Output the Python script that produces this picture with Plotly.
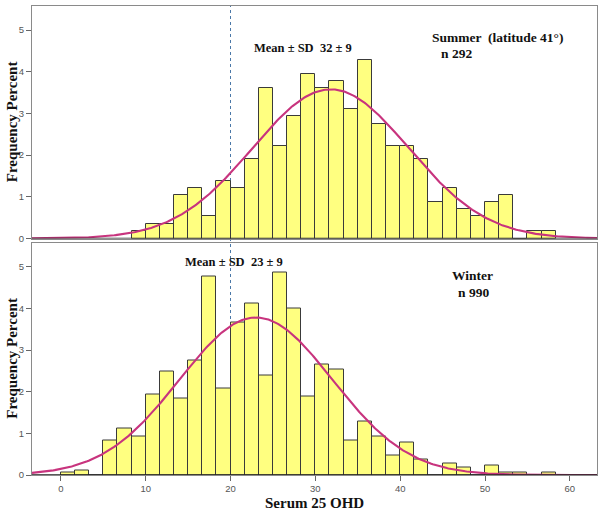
import numpy as np
import plotly.graph_objects as go

# ---- data ----
bin_width = 5 / 3
summer_bin_starts = [8.333, 10.0, 11.667, 13.333, 15.0, 16.667, 18.333, 20.0, 21.667, 23.333,
                     25.0, 26.667, 28.333, 30.0, 31.667, 33.333, 35.0, 36.667, 38.333, 40.0,
                     41.667, 43.333, 45.0, 46.667, 48.333, 50.0, 51.667, 53.333, 55.0, 56.667]
summer_pct = [0.18, 0.35, 0.35, 1.05, 1.21, 0.53, 1.38, 1.21, 1.90, 3.61,
              2.23, 2.93, 3.95, 3.61, 3.78, 3.10, 4.29, 2.75, 2.23, 2.23,
              1.90, 0.88, 1.21, 0.70, 0.53, 0.88, 1.05, 0.0, 0.18, 0.18]

winter_bin_starts = [0.0, 1.667, 3.333, 5.0, 6.667, 8.333, 10.0, 11.667, 13.333, 15.0,
                     16.667, 18.333, 20.0, 21.667, 23.333, 25.0, 26.667, 28.333, 30.0, 31.667,
                     33.333, 35.0, 36.667, 38.333, 40.0, 41.667, 43.333, 45.0, 46.667, 48.333,
                     50.0, 51.667, 53.333, 55.0, 56.667]
winter_pct = [0.06, 0.12, 0.0, 0.83, 1.11, 0.92, 1.94, 2.49, 1.83, 2.74,
              4.76, 2.08, 3.66, 4.11, 2.39, 4.86, 4.00, 1.88, 2.65, 2.54,
              0.83, 1.28, 0.92, 0.47, 0.78, 0.38, 0.0, 0.27, 0.18, 0.0,
              0.22, 0.06, 0.06, 0.0, 0.06]

summer_fit = dict(mean=31.8, sd=9.2, peak=3.58)
winter_fit = dict(mean=23.0, sd=9.0, peak=3.78)

x_ticks = [0, 10, 20, 30, 40, 50, 60]
y_ticks = [0, 1, 2, 3, 4, 5]
ref_line_x = 20

# ---- styling ----
BAR_FILL = "#FFFF80"
BAR_EDGE = "#3a3a3a"
CURVE = "#C8347E"
FRAME = "#8a8a8a"
SERIF = "Liberation Serif, Times New Roman, serif"
SANS = "Liberation Sans, Arial, sans-serif"

W, H = 604, 516
ml, mr, mt, mb = 32, 7, 6, 41
ph = H - mt - mb
sum_dom = [(H - mb - 238.5) / ph, 1.0]
win_dom = [0.0, (H - mb - 242.5) / ph]

xr = [-3.4, 63.2]
yr = [0, 5.58]

fig = go.Figure()

def centers(starts):
    return [s + bin_width / 2 for s in starts]

xs = np.linspace(xr[0], xr[1], 400)

def curve(fit):
    return fit["peak"] * np.exp(-(xs - fit["mean"]) ** 2 / (2 * fit["sd"] ** 2))

fig.add_trace(go.Bar(x=centers(summer_bin_starts), y=summer_pct, width=bin_width,
                     marker=dict(color=BAR_FILL, line=dict(color=BAR_EDGE, width=1)),
                     xaxis="x", yaxis="y", showlegend=False))
fig.add_trace(go.Scatter(x=xs, y=curve(summer_fit), mode="lines",
                         line=dict(color=CURVE, width=2.1), xaxis="x", yaxis="y",
                         showlegend=False))
fig.add_trace(go.Bar(x=centers(winter_bin_starts), y=winter_pct, width=bin_width,
                     marker=dict(color=BAR_FILL, line=dict(color=BAR_EDGE, width=1)),
                     xaxis="x2", yaxis="y2", showlegend=False))
fig.add_trace(go.Scatter(x=xs, y=curve(winter_fit), mode="lines",
                         line=dict(color=CURVE, width=2.1), xaxis="x2", yaxis="y2",
                         showlegend=False))

tickfont = dict(family=SANS, size=9.5, color="#555555")

common_y = dict(range=yr, tickvals=y_ticks, ticks="outside", ticklen=5, tickcolor="#666",
                tickfont=tickfont, showgrid=False, zeroline=False, showline=True,
                linecolor=FRAME, linewidth=1, mirror=True, automargin=False)
common_x = dict(range=xr, showgrid=False, zeroline=False, showline=True,
                linecolor=FRAME, linewidth=1, mirror=True, automargin=False)

fig.update_layout(
    template="none",
    width=W, height=H,
    margin=dict(l=ml, r=mr, t=mt, b=mb, autoexpand=False),
    paper_bgcolor="white", plot_bgcolor="white",
    bargap=0,
    xaxis=dict(**common_x, anchor="y", showticklabels=False, ticks=""),
    yaxis=dict(**common_y, domain=sum_dom, anchor="x"),
    xaxis2=dict(**common_x, anchor="y2", matches="x", tickvals=x_ticks, ticks="outside",
                ticklen=5, tickcolor="#666", tickfont=tickfont),
    yaxis2=dict(**common_y, domain=win_dom, anchor="x2"),
)

# dark baselines at y=0
for yref, xref in (("y", "x"), ("y2", "x2")):
    fig.add_shape(type="line", xref=f"{xref} domain", yref=yref, x0=0, x1=1, y0=0, y1=0,
                  line=dict(color="#222222", width=1.3), layer="above")

# dotted reference line at 20 spanning both panels
fig.add_shape(type="line", xref="x", yref="paper", x0=ref_line_x, x1=ref_line_x, y0=0, y1=1,
              line=dict(color="#4a78a8", width=1, dash="dot"), layer="below")

bold = dict(family=SERIF, size=12.5, color="#111111")
ann = [
    dict(text="<b>Mean ± SD  32 ± 9</b>", x=28.6, y=4.57, xref="x", yref="y"),
    dict(text="<b>Summer  (latitude 41°)</b>", x=51.5, y=4.83, xref="x", yref="y", size=13.5),
    dict(text="<b>n 292</b>", x=44.6, y=4.45, xref="x", yref="y", xanchor="left", size=13.5),
    dict(text="<b>Mean ± SD  23 ± 9</b>", x=20.4, y=5.11, xref="x2", yref="y2"),
    dict(text="<b>Winter</b>", x=48.5, y=4.80, xref="x2", yref="y2", size=13.5),
    dict(text="<b>n 990</b>", x=48.6, y=4.39, xref="x2", yref="y2", size=13.5),
]
for a in ann:
    f = dict(bold)
    if "size" in a:
        f["size"] = a.pop("size")
    xa = a.pop("xanchor", "center")
    fig.add_annotation(**a, showarrow=False, font=f, xanchor=xa, yanchor="middle")

# axis titles
title_font = dict(family=SERIF, size=15, color="#111111")
for dom in (sum_dom, win_dom):
    fig.add_annotation(text="<b>Frequency Percent</b>", textangle=-90, showarrow=False,
                       xref="paper", yref="paper", x=(12 - ml) / (W - ml - mr),
                       y=(dom[0] + dom[1]) / 2, xanchor="center", yanchor="middle",
                       font=title_font)
fig.add_annotation(text="<b>Serum 25 OHD</b>", showarrow=False, xref="paper", yref="paper",
                   x=0.5, y=-(503 - (H - mb)) / ph, xanchor="center", yanchor="middle",
                   font=title_font)

fig.write_html("out.html", config={"displayModeBar": False},
               post_script="document.body.style.margin='0';")
